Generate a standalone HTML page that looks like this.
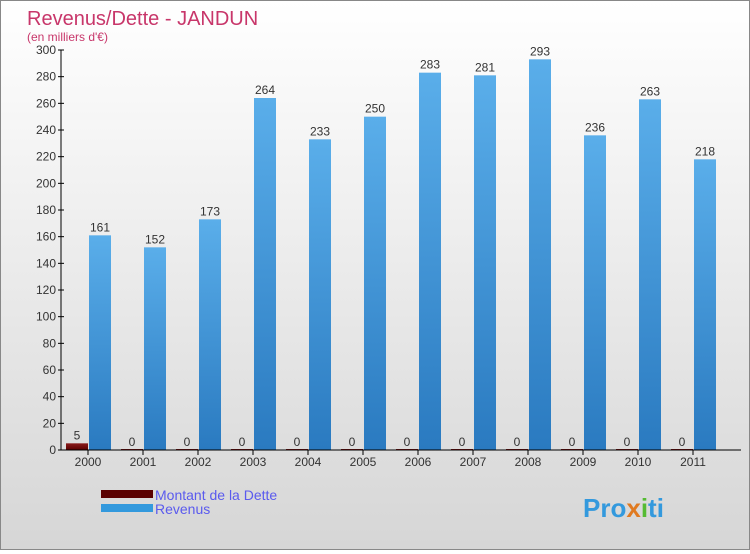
<!DOCTYPE html>
<html><head><meta charset="utf-8"><style>
body{margin:0;width:750px;height:550px;overflow:hidden;font-family:"Liberation Sans",sans-serif}
#wrap{position:relative;width:748px;height:548px;border:1px solid #888;background:linear-gradient(#ffffff,#d6d6d6)}
</style></head><body>
<div id="wrap">
<svg id="chart" width="748" height="548">
<defs>
<linearGradient id="gb" x1="0" y1="0" x2="0" y2="1"><stop offset="0" stop-color="#5aaeea"/><stop offset="1" stop-color="#2a7ac0"/></linearGradient>
<linearGradient id="gd" x1="0" y1="0" x2="0" y2="1"><stop offset="0" stop-color="#8a1a1a"/><stop offset="1" stop-color="#5a0000"/></linearGradient>
</defs>
<text x="26" y="24" font-size="20" fill="#c8366a">Revenus/Dette - JANDUN</text>
<text x="26" y="40" font-size="12" fill="#c8366a">(en milliers d'€)</text>
<g id="plot"></g>
<rect x="100" y="489" width="52" height="8" fill="#5a0000"/>
<text x="154" y="499" font-size="14" fill="#5a5aee">Montant de la Dette</text>
<rect x="100" y="503" width="52" height="8" fill="#3399dd"/>
<text x="154" y="513" font-size="14" fill="#5a5aee">Revenus</text>
<text x="582" y="516" font-size="26" font-weight="bold" fill="#3399dd">Pro<tspan fill="#e07a20">x</tspan><tspan fill="#55bb33">i</tspan>ti</text>
</svg>
</div>
<script>
const years=["2000","2001","2002","2003","2004","2005","2006","2007","2008","2009","2010","2011"];
const dette=[5,0,0,0,0,0,0,0,0,0,0,0];
const revenus=[161,152,173,264,233,250,283,281,293,236,263,218];
const yTicks=[0,20,40,60,80,100,120,140,160,180,200,220,240,260,280,300];
const NS="http://www.w3.org/2000/svg";
const g=document.getElementById("plot");
const x0=60,x1=740,yb=449,yt=49,ymax=300,step=55;
const y=v=>yb-(v/ymax)*(yb-yt);
const gx=i=>x0+step*i;
function mk(t,a){const e=document.createElementNS(NS,t);for(const k in a)e.setAttribute(k,a[k]);g.appendChild(e);return e;}
yTicks.forEach(t=>{
 const l=mk("line",{x1:x0-3,x2:x0+3,y1:y(t),y2:y(t),stroke:"#000"});
 
 
 const tx=mk("text",{x:x0-5,y:y(t)+4,"font-size":12,fill:"#333","text-anchor":"end"});
 tx.textContent=t;
 
 
});
years.forEach((yr,i)=>{
 const b=gx(i);
 const d=mk("rect",{x:b+5,y:Math.min(y(dette[i]),yb-1),width:22,height:Math.max(yb-y(dette[i]),1),fill:"url(#gd)"});
 
 
 const dl=mk("text",{x:b+16,y:y(dette[i])-4,"font-size":12,fill:"#333","text-anchor":"middle"});
 dl.textContent=dette[i];
 
 
 const r=mk("rect",{x:b+28,y:y(revenus[i]),width:22,height:yb-y(revenus[i]),fill:"url(#gb)"});
 
 
 const rl=mk("text",{x:b+39,y:y(revenus[i])-4,"font-size":12,fill:"#333","text-anchor":"middle"});
 rl.textContent=revenus[i];
 
 
 const tk=mk("line",{x1:b+27,x2:b+27,y1:yb,y2:yb+5,stroke:"#000"});
 
 
 const xl=mk("text",{x:b+27,y:yb+16,"font-size":12,fill:"#333","text-anchor":"middle"});
 xl.textContent=yr;
 
 
});
const ax=mk("line",{x1:x0,x2:x0,y1:yt,y2:yb,stroke:"#000"});


const bx=mk("line",{x1:x0,x2:x1,y1:yb,y2:yb,stroke:"#000"});


</script>
</body></html>
